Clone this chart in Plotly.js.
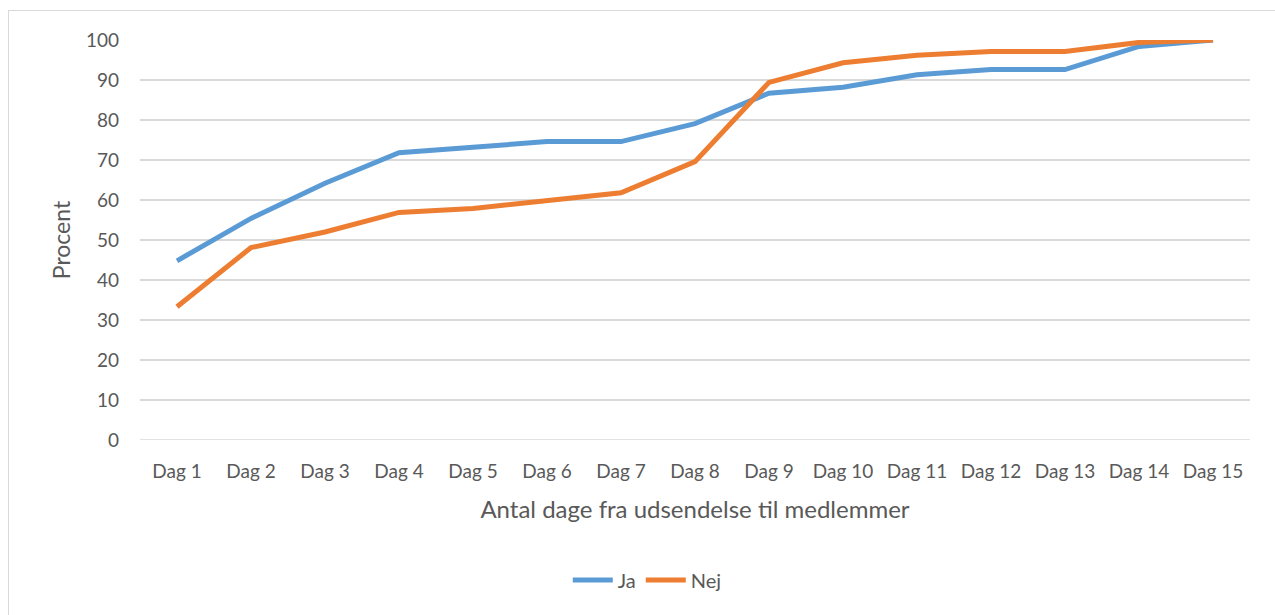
<!DOCTYPE html>
<html><head><meta charset="utf-8">
<script src="https://cdn.plot.ly/plotly-3.0.1.min.js"></script>
<style>
html,body{margin:0;padding:0;background:#fff;}
#wrap{position:relative;width:1275px;height:615px;overflow:hidden;}
#border{position:absolute;left:8px;top:10px;width:1270px;height:610px;border:1px solid #d9d9d9;box-sizing:border-box;pointer-events:none;}
#chart{position:absolute;left:0;top:0;width:1275px;height:615px;}
</style></head>
<body><div id="wrap"><div id="chart"></div><div id="border"></div></div>
<script>
const categories = ["Dag 1","Dag 2","Dag 3","Dag 4","Dag 5","Dag 6","Dag 7","Dag 8","Dag 9","Dag 10","Dag 11","Dag 12","Dag 13","Dag 14","Dag 15"];
const jaValues  = [44.8, 55.4, 64.2, 71.8, 73.2, 74.6, 74.6, 79.1, 86.7, 88.2, 91.3, 92.6, 92.6, 98.4, 100];
const nejValues = [33.3, 48.1, 52.0, 56.9, 57.9, 59.9, 61.8, 69.6, 89.4, 94.3, 96.2, 97.1, 97.1, 99.4, 100];
const yTicks = [0,10,20,30,40,50,60,70,80,90,100];

const font = "Lato, 'Open Sans', sans-serif";
const traces = [
  {x: categories, y: jaValues, name: "Ja", type: "scatter", mode: "lines",
   line: {color: "#5b9bd5", width: 5}},
  {x: categories, y: nejValues, name: "Nej", type: "scatter", mode: "lines",
   line: {color: "#ed7d31", width: 5}}
];
const layout = {
  width: 1275, height: 615,
  margin: {l: 140, r: 25, t: 40, b: 175},
  paper_bgcolor: "rgba(0,0,0,0)", plot_bgcolor: "#fff",
  font: {family: font, color: "#595959", size: 19},
  showlegend: true,
  legend: {orientation: "h", x: 0.457, xanchor: "center", y: -0.35, yanchor: "middle",
           font: {size: 20, color: "#595959"}, itemwidth: 40},
  xaxis: {type: "category", range: [-0.5, 14.5], showgrid: false, zeroline: false,
          showline: false, ticks: "", ticklabelstandoff: 18,
          tickfont: {size: 19, color: "#595959"},
          title: {text: "Antal dage fra udsendelse til medlemmer", font: {size: 24, color: "#595959"}, standoff: 20}},
  yaxis: {range: [0, 100], tickvals: yTicks, showgrid: true, gridcolor: "#d9d9d9", gridwidth: 1.3,
          zeroline: false, showline: false, ticks: "", ticklabelstandoff: 20,
          tickfont: {size: 19, color: "#595959"},
          title: {text: "Procent", font: {size: 23, color: "#595959"}, standoff: 8}},
  shapes: [{type: "line", xref: "paper", yref: "y", x0: 0, x1: 1, y0: 0, y1: 0,
            line: {color: "#d9d9d9", width: 1.3}, layer: "below"}]
};
Plotly.newPlot("chart", traces, layout, {displayModeBar: false, staticPlot: true});
</script></body></html>
